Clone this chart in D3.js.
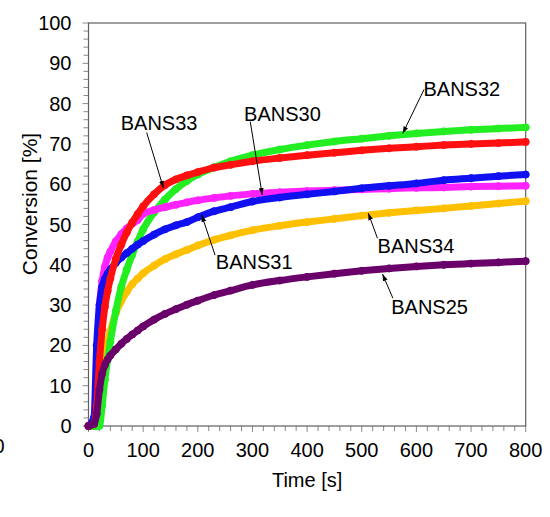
<!DOCTYPE html>
<html><head><meta charset="utf-8">
<script src="https://cdn.jsdelivr.net/npm/d3@7"></script>
<style>
body{margin:0;background:#fff}
svg{display:block}
text{font-family:"Liberation Sans",Arial,sans-serif;fill:#000}
</style>
</head><body>
<svg id="c" width="550" height="517"></svg>
<script>
// ---- data ----
const time   = [0,10,15,20,25,30,35,40,50,60,70,80,90,100,120,140,160,180,200,230,260,300,350,400,450,500,550,600,650,700,750,800];
const bans34 = [0,0,0.5,6,12.5,17.5,21,23.6,28,31,33.3,35.2,36.6,37.9,39.8,41.4,42.6,43.7,44.8,46.2,47.3,48.6,49.7,50.6,51.4,52.2,52.9,53.5,54,54.6,55.2,55.8];
const bans32 = [0,0,0,0,5,11.5,16.5,21,28.5,34.5,38.8,42.5,45.8,48.8,53,56.2,58.8,60.8,62.4,64.2,65.7,67.2,68.6,69.7,70.6,71.3,72,72.6,73.1,73.5,73.8,74.1];
const bans30 = [0,2,10,29,36,39.5,41.8,43.3,45.8,47.6,49,50.2,51.1,52.6,53.6,54.3,54.9,55.5,56,56.6,57.1,57.6,58,58.3,58.5,58.7,58.9,59.1,59.2,59.4,59.5,59.6];
const bans31 = [0,2,20,30,34.5,36.5,37.8,38.8,40.5,41.8,42.9,44,45,45.9,47.5,48.8,49.8,50.6,51.8,53.3,54.3,55.7,56.7,57.5,58.2,59,59.6,60.2,61,61.5,62,62.4];
const bans33 = [0,0.5,5,16,24,29.6,33.5,36.6,41.5,45,48,50.5,52.6,54.5,57.5,59.8,61.2,62.2,63,64.1,64.8,65.7,66.5,67.2,67.8,68.4,68.9,69.3,69.7,70,70.2,70.5];
const bans25 = [0,0.5,3,9,13,15.2,16.5,17.5,19,20.4,21.6,22.7,23.7,24.7,26.4,27.8,29,30.1,31.1,32.5,33.6,35,36.1,37,37.8,38.5,39.1,39.6,40,40.3,40.6,40.9];
const seriesNames  = ["BANS34","BANS32","BANS30","BANS31","BANS33","BANS25"];
const seriesValues = [bans34, bans32, bans30, bans31, bans33, bans25];
const seriesColors = ["#FFC000","#22EE22","#FF22FF","#1010F0","#FF1010","#6A006A"];
const xTicks = [0,100,200,300,400,500,600,700,800];
const yTicks = [0,10,20,30,40,50,60,70,80,90,100];
// annotation anchors in data units: label, text(t,v), tail(t,v), tip(t,v)
const annLabels = ["BANS33","BANS30","BANS32","BANS31","BANS34","BANS25"];
const annText   = [[59,73.4],[284.7,75.8],[613,82],[233,39],[529,42.9],[554,27.7]];
const annTail   = [[106.5,72.8],[296,75.5],[614,83.5],[231.6,42.4],[528.7,46.6],[557,31.7]];
const annTip    = [[137,59.1],[318,57.3],[575,72.6],[207,52.4],[512,52.8],[538,37.7]];

// ---- chart ----
const svg = d3.select("#c");
const L=88.5, R=525.7, T=23, B=426;
const x = d3.scaleLinear().domain([0,800]).range([L,R]);
const y = d3.scaleLinear().domain([0,100]).range([B,T]);

svg.append("defs").append("marker")
  .attr("id","ah").attr("viewBox","0 0 10 10").attr("refX",10).attr("refY",5)
  .attr("markerWidth",7).attr("markerHeight",7).attr("orient","auto")
  .append("path").attr("d","M0,1.5 L10,5 L0,8.5 Z").attr("fill","#000");

// minor ticks
const tickCol = "#8a8a8a";
const xMinor = d3.range(0,801,20);
svg.append("g").selectAll("line").data(xMinor).join("line")
  .attr("x1",d=>x(d)).attr("x2",d=>x(d)).attr("y1",B).attr("y2",d=>d%100===0?B+6:B+5)
  .attr("stroke",tickCol).attr("stroke-width",1);
const yMinor = d3.range(0,101,2);
svg.append("g").selectAll("line").data(yMinor).join("line")
  .attr("y1",d=>y(d)).attr("y2",d=>y(d)).attr("x1",L).attr("x2",d=>d%10===0?L-6:L-5)
  .attr("stroke",tickCol).attr("stroke-width",1);

// frame
svg.append("rect").attr("x",L).attr("y",T).attr("width",R-L).attr("height",B-T)
  .attr("fill","none").attr("stroke","#606060").attr("stroke-width",1.2);

// tick labels
svg.append("g").selectAll("text").data(xTicks).join("text")
  .attr("x",d=>x(d)).attr("y",457).attr("text-anchor","middle")
  .attr("font-size",20).text(d=>d);
svg.append("g").selectAll("text").data(yTicks).join("text")
  .attr("x",L-17).attr("y",d=>y(d)+7).attr("text-anchor","end")
  .attr("font-size",20).text(d=>d);
// stray cut-off label at far left
svg.append("text").attr("x",-1).attr("y",453).attr("text-anchor","middle").attr("font-size",20).text("0");

// axis titles
svg.append("text").attr("x",(L+R)/2).attr("y",487).attr("text-anchor","middle")
  .attr("font-size",20).text("Time [s]");
svg.append("text").attr("transform","translate(37,204) rotate(-90)").attr("text-anchor","middle")
  .attr("font-size",21).text("Conversion [%]");

// series
const line = d3.line().x(d=>x(d[0])).y(d=>y(d[1])).curve(d3.curveMonotoneX);
seriesValues.forEach((vals,i)=>{
  const pts = time.map((t,j)=>[t,vals[j]]);
  const g = svg.append("g").attr("class","series").attr("data-name",seriesNames[i]);
  g.append("path").attr("d",line(pts)).attr("fill","none")
    .attr("stroke",seriesColors[i]).attr("stroke-width",7)
    .attr("stroke-linecap","round").attr("stroke-linejoin","round");
  g.selectAll("circle").data(pts).join("circle")
    .attr("cx",d=>x(d[0])).attr("cy",d=>y(d[1])).attr("r",3.6)
    .attr("fill",seriesColors[i]).attr("stroke",seriesColors[i]).attr("stroke-width",0.8);
});

// annotations
annLabels.forEach((lab,i)=>{
  svg.append("line")
    .attr("x1",x(annTail[i][0])).attr("y1",y(annTail[i][1]))
    .attr("x2",x(annTip[i][0])).attr("y2",y(annTip[i][1]))
    .attr("stroke","#000").attr("stroke-width",1).attr("marker-end","url(#ah)");
  svg.append("text").attr("x",x(annText[i][0])).attr("y",y(annText[i][1]))
    .attr("font-size",20).text(lab);
});
</script>
</body></html>
